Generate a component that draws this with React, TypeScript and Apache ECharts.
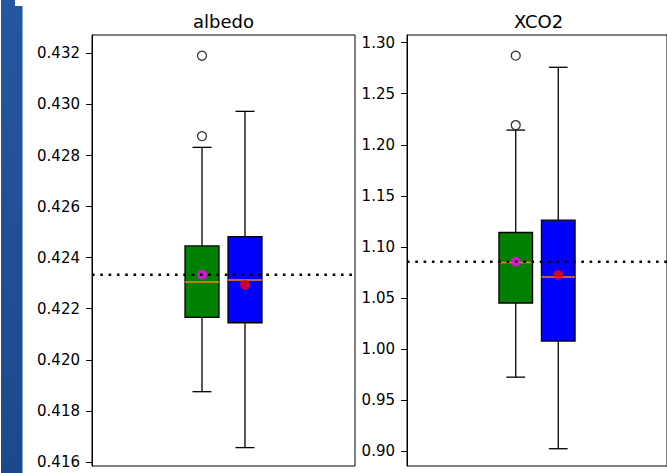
import React, { useEffect, useRef } from "react";
import * as echarts from "echarts";

// ---- data ----
const positions = [1, 2];
const boxColors = ["#008000", "#0000ff"];
const meanColors = ["#ff00ff", "#ff0000"];

// [lowWhisker, q1, median, q3, highWhisker]
const albedoStats = [
  [0.41875, 0.42166, 0.42305, 0.42446, 0.42832],
  [0.41656, 0.42145, 0.42312, 0.42482, 0.42973],
];
const albedoMeans = [0.42333, 0.42294];
const albedoOutliers = [
  [1, 0.43191],
  [1, 0.42876],
];
const albedoRef = 0.42333;
const albedoTicks = [0.416, 0.418, 0.42, 0.422, 0.424, 0.426, 0.428, 0.43, 0.432];

const xco2Stats = [
  [0.9725, 1.0451, 1.0847, 1.1141, 1.2144],
  [0.9024, 1.0078, 1.0706, 1.1262, 1.2759],
];
const xco2Means = [1.0855, 1.0725];
const xco2Outliers = [
  [1, 1.2873],
  [1, 1.2193],
];
const xco2Ref = 1.0855;
const xco2Ticks = [0.9, 0.95, 1.0, 1.05, 1.1, 1.15, 1.2, 1.25, 1.3];

const titles = ["albedo", "XCO2"];

const X_MIN = -1.558;
const X_MAX = 4.558;
const BOX_W = 0.79;
const FONT = "DejaVu Sans";

function boxSeries(stats: number[][], idx: number) {
  return {
    type: "custom",
    xAxisIndex: idx,
    yAxisIndex: idx,
    z: 2,
    silent: true,
    data: stats.map((s, i) => ({
      value: [positions[i], ...s],
      itemStyle: { color: boxColors[i] },
    })),
    renderItem: (params: any, api: any) => {
      const pos = api.value(0);
      const lo = api.value(1);
      const q1 = api.value(2);
      const med = api.value(3);
      const q3 = api.value(4);
      const hi = api.value(5);
      const [cx, yHi] = api.coord([pos, hi]);
      const yLo = api.coord([pos, lo])[1];
      const yQ1 = api.coord([pos, q1])[1];
      const yQ3 = api.coord([pos, q3])[1];
      const yMed = api.coord([pos, med])[1];
      const w = api.size([BOX_W, 0])[0];
      const color = api.visual("color");
      const ls = { stroke: "#000", lineWidth: 1.3 };
      return {
        type: "group",
        children: [
          { type: "line", shape: { x1: cx, y1: yHi, x2: cx, y2: yQ3 }, style: ls },
          { type: "line", shape: { x1: cx, y1: yQ1, x2: cx, y2: yLo }, style: ls },
          { type: "line", shape: { x1: cx - w / 4 - 1, y1: yHi, x2: cx + w / 4 + 1, y2: yHi }, style: ls },
          { type: "line", shape: { x1: cx - w / 4 - 1, y1: yLo, x2: cx + w / 4 + 1, y2: yLo }, style: ls },
          {
            type: "rect",
            shape: { x: cx - w / 2, y: yQ3, width: w, height: yQ1 - yQ3 },
            style: { fill: color, stroke: "#000", lineWidth: 1.3 },
          },
          {
            type: "line",
            shape: { x1: cx - w / 2, y1: yMed, x2: cx + w / 2, y2: yMed },
            style: { stroke: "#ff7f0e", lineWidth: 1.5 },
          },
        ],
      };
    },
  };
}

function meanSeries(means: number[], idx: number) {
  return {
    type: "scatter",
    xAxisIndex: idx,
    yAxisIndex: idx,
    z: 4,
    silent: true,
    symbol: "circle",
    symbolSize: 10,
    data: means.map((m, i) => ({ value: [positions[i], m], itemStyle: { color: meanColors[i] } })),
  };
}

function outlierSeries(out: number[][], idx: number) {
  return {
    type: "scatter",
    xAxisIndex: idx,
    yAxisIndex: idx,
    z: 4,
    silent: true,
    symbol: "circle",
    symbolSize: 9,
    itemStyle: { color: "#fff", borderColor: "#000", borderWidth: 1.3 },
    data: out,
  };
}

function refSeries(ref: number, idx: number) {
  return {
    type: "line",
    xAxisIndex: idx,
    yAxisIndex: idx,
    z: 10,
    silent: true,
    symbol: "none",
    lineStyle: { color: "#000", width: 2.4, type: [2.6, 5.7] },
    data: [
      [X_MIN, ref],
      [X_MAX, ref],
    ],
  };
}

function yAxis(idx: number, min: number, max: number, ticks: number[], digits: number) {
  return {
    type: "value",
    gridIndex: idx,
    min,
    max,
    position: "left",
    splitLine: { show: false },
    axisLine: { show: true, onZero: false, lineStyle: { color: "#000", width: 1 } },
    axisTick: {
      show: true,
      inside: false,
      length: 6,
      lineStyle: { color: "#000", width: 1 },
      customValues: ticks,
    },
    axisLabel: {
      customValues: ticks,
      margin: 12,
      color: "#000",
      fontFamily: FONT,
      fontSize: 15,
      formatter: (v: number) => v.toFixed(digits),
    },
  };
}

function xAxis(idx: number) {
  return {
    type: "value",
    gridIndex: idx,
    min: X_MIN,
    max: X_MAX,
    show: true,
    position: "bottom",
    axisLine: { show: false, onZero: false },
    axisTick: { show: false },
    axisLabel: { show: false },
    splitLine: { show: false },
  };
}

export default function App() {
  const ref = useRef<HTMLDivElement>(null);
  useEffect(() => {
    if (!ref.current) return;
    const chart = echarts.init(ref.current, null, { renderer: "svg" });
    chart.setOption({
      animation: false,
      backgroundColor: "#fff",
      grid: [
        { left: 92, top: 35, width: 263, height: 431, show: true, borderColor: "#000", borderWidth: 1, backgroundColor: "transparent" },
        { left: 407, top: 35, width: 263, height: 431, show: true, borderColor: "#000", borderWidth: 1, backgroundColor: "transparent" },
      ],
      xAxis: [xAxis(0), xAxis(1)],
      yAxis: [
        yAxis(0, 0.41584, 0.43272, albedoTicks, 3),
        yAxis(1, 0.8855, 1.3075, xco2Ticks, 2),
      ],
      graphic: [
        {
          type: "polygon",
          silent: true,
          shape: {
            points: [
              [1, 0],
              [15, 0],
              [15, 6],
              [22.5, 6],
              [22.5, 473],
              [1, 473],
            ],
          },
          style: {
            fill: new echarts.graphic.LinearGradient(0, 0, 0, 1, [
              { offset: 0, color: "#2656a0" },
              { offset: 1, color: "#1b498d" },
            ]),
          },
        },
        {
          type: "text",
          x: 223.5,
          y: 21,
          style: { text: titles[0], fill: "#000", font: `18px "${FONT}"`, align: "center", verticalAlign: "middle" },
        },
        {
          type: "text",
          x: 538.5,
          y: 21,
          style: { text: titles[1], fill: "#000", font: `18px "${FONT}"`, align: "center", verticalAlign: "middle" },
        },
      ],
      series: [
        boxSeries(albedoStats, 0),
        outlierSeries(albedoOutliers, 0),
        meanSeries(albedoMeans, 0),
        refSeries(albedoRef, 0),
        boxSeries(xco2Stats, 1),
        outlierSeries(xco2Outliers, 1),
        meanSeries(xco2Means, 1),
        refSeries(xco2Ref, 1),
      ],
    });
    return () => chart.dispose();
  }, []);
  return (
    <div
      ref={ref}
      style={{ position: "absolute", left: 0, top: 0, width: 667, height: 473, overflow: "hidden" }}
    />
  );
}
